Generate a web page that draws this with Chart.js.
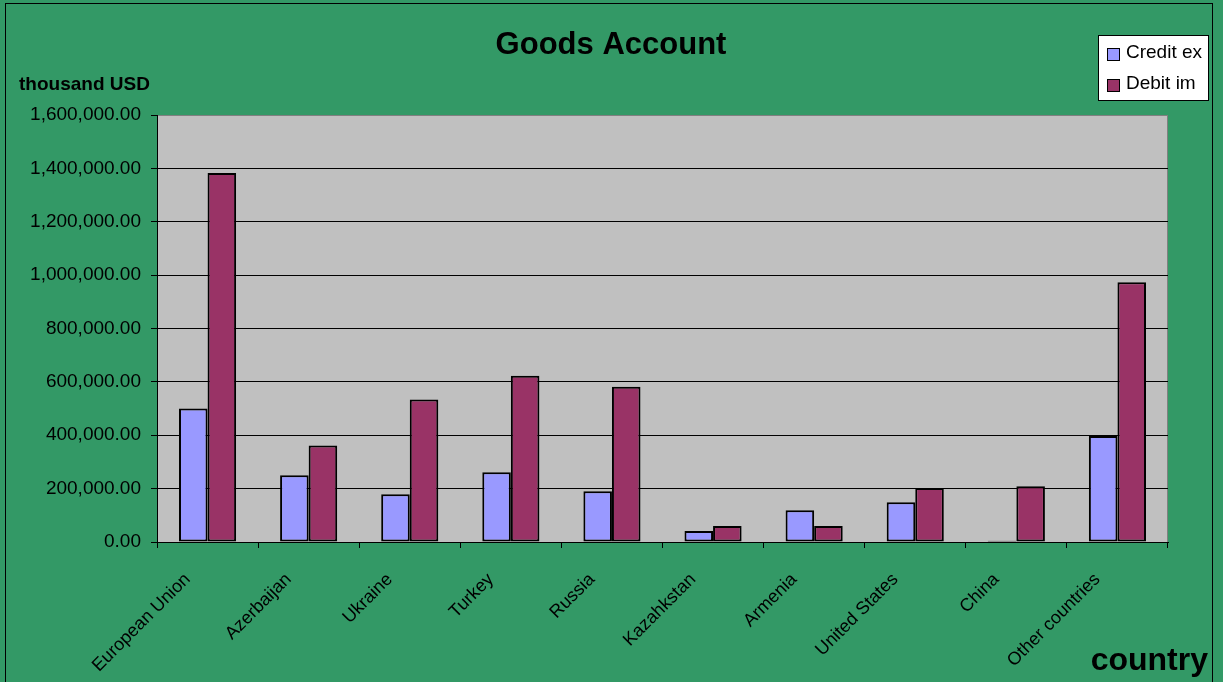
<!DOCTYPE html>
<html lang="en">
  <head>
    <meta charset="UTF-8" />
    <title>Goods Account</title>
    <script src="https://cdn.jsdelivr.net/npm/chart.js@4.4.0/dist/chart.umd.min.js"></script>
    <style>
      body {
        margin: 0;
        background: #339966;
        overflow: hidden;
      }
      #wrap {
        position: relative;
        width: 1223px;
        height: 682px;
      }
      #frame {
        position: absolute;
        left: 5px;
        top: 3px;
        width: 1206px;
        height: 700px;
        border: 1px solid #000;
        pointer-events: none;
      }
    </style>
  </head>
  <body>
    <div id="wrap">
      <canvas id="myChart" width="1223" height="682"></canvas>
      <div id="frame"></div>
    </div>
    <script>
      const countries = [
        "European Union",
        "Azerbaijan",
        "Ukraine",
        "Turkey",
        "Russia",
        "Kazahkstan",
        "Armenia",
        "United States",
        "China",
        "Other countries",
      ];
      const creditEx = [500000, 250000, 179000, 261000, 190000, 41000, 119000, 149000, 5000, 397000];
      const debitIm = [1383000, 362000, 534000, 623000, 582000, 60000, 60000, 202000, 209000, 973000];
      const yTicks = [0, 200000, 400000, 600000, 800000, 1000000, 1200000, 1400000, 1600000];

      const FONT = "'Liberation Sans', Arial, sans-serif";
      const COLORS = {
        credit: "#9999ff",
        debit: "#993366",
        plot: "#c0c0c0",
        plotBorder: "#808080",
      };

      // plot background, and all the loose texts + legend box
      const decor = {
        id: "decor",
        beforeDraw(chart) {
          const { ctx, chartArea: a } = chart;
          ctx.save();
          ctx.fillStyle = COLORS.plot;
          ctx.fillRect(a.left, a.top, a.right - a.left, a.bottom - a.top);
          ctx.strokeStyle = COLORS.plotBorder;
          ctx.lineWidth = 1;
          ctx.strokeRect(a.left + 0.5, a.top + 0.5, a.right - a.left - 1, a.bottom - a.top);
          ctx.restore();
        },
        afterDraw(chart) {
          const ctx = chart.ctx;
          ctx.save();
          ctx.fillStyle = "#000";
          ctx.textBaseline = "alphabetic";

          ctx.font = "bold 31px " + FONT;
          ctx.textAlign = "center";
          ctx.fillText("Goods Account", 611, 54);

          ctx.font = "bold 19px " + FONT;
          ctx.textAlign = "left";
          ctx.fillText("thousand USD", 19, 90);

          ctx.font = "bold 32px " + FONT;
          ctx.textAlign = "right";
          ctx.fillText("country", 1208, 670);

          // legend
          ctx.fillStyle = "#fff";
          ctx.fillRect(1098, 35, 110, 65);
          ctx.strokeStyle = "#000";
          ctx.lineWidth = 1;
          ctx.strokeRect(1098.5, 35.5, 110, 65);
          const items = [
            ["Credit ex", COLORS.credit, 48, 58],
            ["Debit im", COLORS.debit, 79, 89],
          ];
          ctx.font = "19px " + FONT;
          ctx.textAlign = "left";
          items.forEach(([label, col, my, ty]) => {
            ctx.fillStyle = col;
            ctx.fillRect(1107, my, 12, 12);
            ctx.strokeStyle = "#000";
            ctx.strokeRect(1107.5, my + 0.5, 12, 12);
            ctx.fillStyle = "#000";
            ctx.fillText(label, 1126, ty);
          });
          ctx.restore();
        },
      };

      const ctx = document.getElementById("myChart");
      const myChart = new Chart(ctx, {
        type: "bar",
        data: {
          labels: countries,
          datasets: [
            {
              label: "Credit ex",
              data: creditEx,
              backgroundColor: COLORS.credit,
              borderColor: "#000",
              borderWidth: 2,
              borderSkipped: false,
            },
            {
              label: "Debit im",
              data: debitIm,
              backgroundColor: COLORS.debit,
              borderColor: "#000",
              borderWidth: 2,
              borderSkipped: false,
            },
          ],
        },
        options: {
          responsive: false,
          devicePixelRatio: 1,
          animation: false,
          layout: {
            padding: { left: 8, top: 115, right: 55, bottom: 0 },
          },
          datasets: {
            bar: {
              barPercentage: 1,
              categoryPercentage: 0.565,
            },
          },
          plugins: {
            legend: { display: false },
            title: { display: false },
            tooltip: { enabled: false },
          },
          scales: {
            x: {
              grid: {
                display: true,
                drawOnChartArea: false,
                drawTicks: true,
                tickLength: 6,
                color: "#000",
                offset: true,
              },
              border: { color: "#000", width: 1 },
              ticks: {
                autoSkip: false,
                maxRotation: 45,
                minRotation: 45,
                color: "#000",
                padding: 21,
                labelOffset: -20,
                font: { family: FONT, size: 18 },
              },
              afterFit(scale) {
                scale.height = 140;
              },
            },
            y: {
              min: 0,
              max: 1600000,
              afterBuildTicks(scale) {
                scale.ticks = yTicks.map((v) => ({ value: v }));
              },
              grid: {
                color: (c) => (c.tick && c.tick.value === 1600000 ? COLORS.plotBorder : "#000"),
                tickColor: "#000",
                tickLength: 6,
                lineWidth: 1,
              },
              border: { color: "#000", width: 1 },
              ticks: {
                color: "#000",
                padding: 10,
                font: { family: FONT, size: 19 },
                callback: (v) =>
                  Number(v).toLocaleString("en-US", {
                    minimumFractionDigits: 2,
                    maximumFractionDigits: 2,
                  }),
              },
              afterFit(scale) {
                scale.width = 149;
              },
            },
          },
        },
        plugins: [decor],
      });
    </script>
  </body>
</html>
